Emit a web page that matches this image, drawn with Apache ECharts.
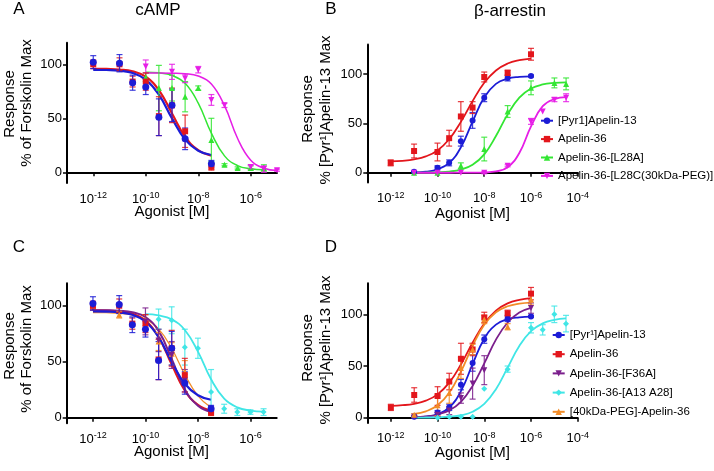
<!DOCTYPE html>
<html><head><meta charset="utf-8">
<script src="https://cdn.jsdelivr.net/npm/echarts@6/dist/echarts.min.js"></script>
<style>html,body{margin:0;padding:0;background:#fff}#c{width:714px;height:471px}</style>
</head><body><div id="c"></div>
<script>
// ---- tick labels (log10 of molar concentration) ----
const xTicksAC = [-12, -10, -8, -6];
const xTicksBD = [-12, -10, -8, -6, -4];
const yTicks = [0, 50, 100];

// ---- cAMP data (x = log10[M]) ----
const pyr_cAMP_x = [-12, -11, -10.5, -10, -9.5, -9, -8.5, -7.5];
const pyr_cAMP_y = [102, 101, 83, 79, 51, 62, 31, 8];
const pyr_cAMP_err = [6, 8, 7, 7, 17, 15, 10, 3];
const a36_cAMP_x = [-12, -11, -10.5, -10, -9.5, -9, -8.5, -7.5];
const a36_cAMP_y = [100, 100, 84, 84, 52, 62, 38, 5];
const a36_cAMP_err = [4, 6, 5, 8, 18, 16, 15, 3];
const l28a_cAMP_x = [-10, -9.5, -9, -8.5, -8, -7.5, -7, -6.5, -6, -5.5];
const l28a_cAMP_y = [88, 78, 78, 70, 78, 30, 7, 4, 4, 4];
const l28a_cAMP_err = [4, 21, 12, 14, 2, 20, 1, 1, 2, 3];
const l28c_cAMP_x = [-10, -9, -8.5, -8, -7.5, -7, -6, -5.5, -5];
const l28c_cAMP_y = [98, 93, 87, 95, 67, 62, 5, 3, 2];
const l28c_cAMP_err = [6, 7, 4, 3, 5, 2, 2, 3, 1];
const f36a_cAMP_x = [-12, -10, -9.5, -9, -8.5, -7.5];
const f36a_cAMP_y = [100, 86, 69, 56, 33, 7];
const f36a_cAMP_err = [3, 12, 10, 12, 10, 3];
const a13a28_cAMP_x = [-9.5, -9, -8.5, -8, -7.5, -7, -6.5, -6, -5.5];
const a13a28_cAMP_y = [88, 87, 63, 62, 23, 8, 5, 5, 5];
const a13a28_cAMP_err = [9, 12, 16, 9, 20, 4, 3, 2, 3];
const peg40_cAMP_x = [-12, -11, -10, -9.5, -9, -8.5, -7.5];
const peg40_cAMP_y = [100, 92, 87, 68, 57, 41, 5];
const peg40_cAMP_err = [3, 3, 5, 8, 10, 10, 3];

// ---- beta-arrestin data ----
const pyr_arr_x = [-11, -10, -9.5, -9, -8.5, -8, -7, -6];
const pyr_arr_y = [1, 5, 10, 32, 53, 76, 96, 98];
const pyr_arr_err = [1, 2, 3, 5, 8, 4, 3, 1];
const a36_arr_x = [-12, -11, -10, -9.5, -9, -8.5, -8, -7, -6];
const a36_arr_y = [10, 22, 21, 35, 57, 66, 97, 101, 120];
const a36_arr_err = [3, 7, 9, 8, 15, 6, 5, 3, 6];
const l28a_arr_x = [-11, -10, -9, -8, -7, -6, -5, -4.5];
const l28a_arr_y = [0, 0, 7, 24, 62, 86, 91, 90];
const l28a_arr_err = [0, 0, 3, 12, 6, 7, 5, 6];
const l28c_arr_x = [-11, -10, -9, -8, -7, -6, -5.5, -5, -4.5];
const l28c_arr_y = [0, 0, 0, 0, 7, 52, 62, 74, 76];
const l28c_arr_err = [0, 0, 0, 1, 1, 3, 0, 2, 4];
const f36a_arr_x = [-11, -10, -9.5, -9, -8.5, -8, -6];
const f36a_arr_y = [1, 3, 7, 19, 33, 46, 106];
const f36a_arr_err = [1, 2, 4, 5, 15, 14, 5];
const a13a28_arr_x = [-10, -9.5, -9, -8.5, -8, -7, -6, -5.5, -5, -4.5];
const a13a28_arr_y = [0, 1, 1, 1, 28, 47, 87, 85, 100, 91];
const a13a28_arr_err = [0, 0, 0, 0, 0, 3, 5, 5, 8, 8];
const peg40_arr_x = [-11, -10, -9.5, -9, -8.5, -8, -7, -6];
const peg40_arr_y = [3, 12, 24, 48, 66, 95, 88, 114];
const peg40_arr_err = [1, 10, 10, 10, 5, 4, 3, 5];

// ---- fitted curves ----
const curveX_12_75 = [-12, -11.5, -11, -10.5, -10, -9.5, -9, -8.5, -8, -7.5];
const pyrCurveA_y = [94.9, 94.7, 94.0, 91.9, 85.9, 71.9, 49.9, 30.3, 20.0, 16.0];
const a36CurveA_y = [95.9, 95.7, 95.2, 93.5, 88.5, 76.1, 54.5, 33.0, 20.5, 15.5];
const l28aCurveA_x = [-10, -9.5, -9, -8.5, -8, -7.5, -7, -6.5, -6, -5.5];
const l28aCurveA_y = [92.7, 92.1, 89.7, 82.4, 64.0, 36.2, 15.2, 6.2, 3.2, 2.3];
const l28cCurveA_x = [-10, -9.5, -9, -8.5, -8, -7.5, -7, -6.5, -6, -5.5, -5];
const l28cCurveA_y = [92.0, 92.0, 91.8, 91.3, 89.2, 81.8, 61.7, 31.3, 11.2, 3.8, 1.7];

const pyrCurveB_x = [-11, -10.5, -10, -9.5, -9, -8.5, -8, -7.5, -7, -6.5, -6];
const pyrCurveB_y = [0.4, 1.1, 3.4, 9.9, 25.7, 51.8, 76.4, 90.0, 95.3, 97.1, 97.7];
const a36CurveB_x = [-12, -11.5, -11, -10.5, -10, -9.5, -9, -8.5, -8, -7.5, -7, -6.5, -6];
const a36CurveB_y = [11.5, 12.1, 13.5, 16.5, 22.6, 33.9, 51.5, 72.5, 91.1, 103.6, 110.6, 114.0, 115.6];
const curveX_11_45 = [-11, -10.5, -10, -9.5, -9, -8.5, -8, -7.5, -7, -6.5, -6, -5.5, -5, -4.5];
const l28aCurveB_y = [0.1, 0.2, 0.5, 1.2, 3.2, 8.0, 18.6, 37.2, 59.1, 76.1, 85.3, 89.4, 91.0, 91.6];
const l28cCurveB_y = [0, 0, 0, 0, 0.02, 0.07, 0.3, 1.3, 5.6, 20.0, 47.0, 67.4, 74.6, 76.5];

const a36CurveC_y = [95.9, 95.7, 95.0, 92.8, 86.7, 71.9, 47.4, 24.2, 11.5, 6.5];
const f36aCurveC_y = [96.0, 95.9, 95.5, 94.2, 89.9, 77.5, 52.4, 25.5, 10.7, 5.3];
const a13a28CurveC_x = [-10, -9.5, -9, -8.5, -8, -7.5, -7, -6.5, -6, -5.5];
const a13a28CurveC_y = [92.4, 91.3, 87.8, 78.3, 59.0, 34.3, 17.0, 9.2, 6.4, 5.4];
const peg40CurveC_y = [93.9, 93.7, 93.2, 91.8, 88.2, 79.3, 61.9, 38.6, 19.5, 9.1];

const curveX_11_6 = [-11, -10.5, -10, -9.5, -9, -8.5, -8, -7.5, -7, -6.5, -6];
const f36aCurveD_y = [0.6, 1.3, 3.1, 7.1, 15.4, 30.8, 52.6, 75.5, 92.1, 101.7, 106.3];
const a13a28CurveD_y = [0.1, 0.2, 0.4, 1.0, 2.4, 5.8, 13.3, 27.6, 48.5, 69.4, 83.7, 91.2, 94.6, 96.0];
const peg40CurveD_y = [3.7, 6.2, 12.0, 24.1, 44.6, 69.4, 89.9, 102.0, 107.8, 110.3, 111.3];

// ---- names ----
const N_PYR = '[Pyr1]Apelin-13';
const N_PYR_SUP = '[Pyr\u00b9]Apelin-13';
const N_A36 = 'Apelin-36';
const N_L28A = 'Apelin-36-[L28A]';
const N_L28C = 'Apelin-36-[L28C(30kDa-PEG)]';
const N_F36A = 'Apelin-36-[F36A]';
const N_A13 = 'Apelin-36-[A13 A28]';
const N_PEG = '[40kDa-PEG]-Apelin-36';

const FONT = '"Liberation Sans", Arial, sans-serif';
const C = {blue:'#1c1cd6', red:'#e3161c', green:'#33e633', magenta:'#e61ee6', purple:'#7b1f8c', cyan:'#40e6e6', orange:'#f28c28'};

const series = [];
function zip(xs, ys) { return xs.map((x, i) => [x, ys[i]]); }
function addCompound(p, name, color, symbol, rot, size, dx, dy, de, cx, cy, lw) {
  series.push({type:'line', name, xAxisIndex:p, yAxisIndex:p, data: zip(cx, cy), smooth:0.45,
    showSymbol:false, symbol, symbolRotate:rot, lineStyle:{color, width:lw}, itemStyle:{color}, z:2, silent:true});
  series.push({type:'custom', name, xAxisIndex:p, yAxisIndex:p, z:3, silent:true,
    data: dx.map((x, i) => [x, dy[i], de[i]]), encode:{x:0, y:1},
    renderItem: (params, api) => {
      const x = api.value(0), y = api.value(1), e = api.value(2);
      if (!e) return {type:'group', children:[]};
      const t = api.coord([x, y + e]), b = api.coord([x, y - e]);
      const st = {stroke: color, lineWidth: 1.2, opacity: 0.85};
      return {type:'group', children:[
        {type:'line', shape:{x1:t[0], y1:t[1], x2:b[0], y2:b[1]}, style:st},
        {type:'line', shape:{x1:t[0]-3, y1:t[1], x2:t[0]+3, y2:t[1]}, style:st},
        {type:'line', shape:{x1:b[0]-3, y1:b[1], x2:b[0]+3, y2:b[1]}, style:st}
      ]};
    }});
  series.push({type:'scatter', name, xAxisIndex:p, yAxisIndex:p, data: zip(dx, dy), symbol, symbolRotate:rot,
    symbolSize:size, itemStyle:{color, opacity:1}, z:4, silent:true});
}

// Panel A (0)
addCompound(0, N_L28A, C.green, 'triangle', 0, 6, l28a_cAMP_x, l28a_cAMP_y, l28a_cAMP_err, l28aCurveA_x, l28aCurveA_y, 1.5);
addCompound(0, N_L28C, C.magenta, 'triangle', 180, 6, l28c_cAMP_x, l28c_cAMP_y, l28c_cAMP_err, l28cCurveA_x, l28cCurveA_y, 1.5);
addCompound(0, N_A36, C.red, 'rect', 0, 6, a36_cAMP_x, a36_cAMP_y, a36_cAMP_err, curveX_12_75, a36CurveA_y, 2.2);
addCompound(0, N_PYR, C.blue, 'circle', 0, 7, pyr_cAMP_x, pyr_cAMP_y, pyr_cAMP_err, curveX_12_75, pyrCurveA_y, 2.2);
// Panel B (1)
addCompound(1, N_PYR, C.blue, 'circle', 0, 6, pyr_arr_x, pyr_arr_y, pyr_arr_err, pyrCurveB_x, pyrCurveB_y, 1.8);
addCompound(1, N_A36, C.red, 'rect', 0, 6, a36_arr_x, a36_arr_y, a36_arr_err, a36CurveB_x, a36CurveB_y, 1.8);
addCompound(1, N_L28A, C.green, 'triangle', 0, 6, l28a_arr_x, l28a_arr_y, l28a_arr_err, curveX_11_45, l28aCurveB_y, 1.8);
addCompound(1, N_L28C, C.magenta, 'triangle', 180, 6, l28c_arr_x, l28c_arr_y, l28c_arr_err, curveX_11_45, l28cCurveB_y, 1.8);
// Panel C (2)
addCompound(2, N_A13, C.cyan, 'diamond', 0, 6, a13a28_cAMP_x, a13a28_cAMP_y, a13a28_cAMP_err, a13a28CurveC_x, a13a28CurveC_y, 1.8);
addCompound(2, N_PEG, C.orange, 'triangle', 0, 6, peg40_cAMP_x, peg40_cAMP_y, peg40_cAMP_err, curveX_12_75, peg40CurveC_y, 1.2);
addCompound(2, N_A36, C.red, 'rect', 0, 6, a36_cAMP_x, a36_cAMP_y, a36_cAMP_err, curveX_12_75, a36CurveC_y, 2);
addCompound(2, N_F36A, C.purple, 'triangle', 180, 6, f36a_cAMP_x, f36a_cAMP_y, f36a_cAMP_err, curveX_12_75, f36aCurveC_y, 2);
addCompound(2, N_PYR_SUP, C.blue, 'circle', 0, 7, pyr_cAMP_x, pyr_cAMP_y, pyr_cAMP_err, curveX_12_75, pyrCurveA_y, 2.2);
// Panel D (3)
addCompound(3, N_PYR_SUP, C.blue, 'circle', 0, 6, pyr_arr_x, pyr_arr_y, pyr_arr_err, pyrCurveB_x, pyrCurveB_y, 1.8);
addCompound(3, N_A36, C.red, 'rect', 0, 6, a36_arr_x, a36_arr_y, a36_arr_err, a36CurveB_x, a36CurveB_y, 1.8);
addCompound(3, N_F36A, C.purple, 'triangle', 180, 6, f36a_arr_x, f36a_arr_y, f36a_arr_err, curveX_11_6, f36aCurveD_y, 1.8);
addCompound(3, N_A13, C.cyan, 'diamond', 0, 6, a13a28_arr_x, a13a28_arr_y, a13a28_arr_err, curveX_11_45, a13a28CurveD_y, 1.8);
addCompound(3, N_PEG, C.orange, 'triangle', 0, 6, peg40_arr_x, peg40_arr_y, peg40_arr_err, curveX_11_6, peg40CurveD_y, 1.8);

const grids = [
  {left:67, top:42.7, width:210, height:140.4},
  {left:367.3, top:44.4, width:210.5, height:138.2},
  {left:66.7, top:283.3, width:210, height:140},
  {left:367.5, top:283.3, width:210.2, height:139.6}
];
const xMax = [-5, -4, -5, -4];
const xTicks = [xTicksAC, xTicksBD, xTicksAC, xTicksBD];
const yMin = [-10, -10, -5, -5];
const yMax = [120, 130, 120, 130];

const xAxis = grids.map((g, i) => ({
  type:'value', gridIndex:i, min:-13, max:xMax[i],
  axisLine:{show:true, lineStyle:{color:'#000', width:2}},
  axisTick:{show:true, customValues:xTicks[i], length:4, lineStyle:{color:'#000', width:1.5}},
  axisLabel:{customValues:xTicks[i], margin:8, formatter: v => '{b|10}{s|' + v + '}',
    rich:{b:{fontSize:13, fontFamily:FONT, color:'#000'}, s:{fontSize:9, fontFamily:FONT, color:'#000', padding:[0,0,7,0]}}},
  splitLine:{show:false}
}));
const yAxis = grids.map((g, i) => ({
  type:'value', gridIndex:i, min:yMin[i], max:yMax[i],
  axisLine:{show:true, lineStyle:{color:'#000', width:2}},
  axisTick:{show:true, customValues:yTicks, length:4, lineStyle:{color:'#000', width:1.5}},
  axisLabel:{customValues:yTicks, margin:5, fontSize:13, fontFamily:FONT, color:'#000'},
  splitLine:{show:false}
}));

function txt(x, y, text, size, rot) {
  return {type:'text', x, y, rotation: rot || 0, silent:true,
    style:{text, fontSize:size, fontFamily:FONT, fill:'#000', align:'center', verticalAlign:'middle', textAlign:'center', textVerticalAlign:'middle'}};
}
const R = Math.PI / 2;
const graphic = [
  txt(19, 9, 'A', 17), txt(158, 10, 'cAMP', 17),
  txt(331, 9, 'B', 17), txt(510, 11, '\u03b2-arrestin', 17),
  txt(19, 247, 'C', 17), txt(331, 247, 'D', 17),
  txt(172, 212, 'Agonist [M]', 15), txt(472.5, 214, 'Agonist [M]', 15),
  txt(171.5, 452, 'Agonist [M]', 15), txt(472.5, 453, 'Agonist [M]', 15),
  txt(10, 104, 'Response', 15, R), txt(27, 103, '% of Forskolin Max', 15, R),
  txt(308, 109, 'Response', 15, R), txt(326, 110, '% [Pyr\u00b9]Apelin-13 Max', 15, R),
  txt(10, 346, 'Response', 15, R), txt(27, 349, '% of Forskolin Max', 15, R),
  txt(308, 348, 'Response', 15, R), txt(326, 350, '% [Pyr\u00b9]Apelin-13 Max', 15, R)
];

const legendBase = {orient:'vertical', itemWidth:12, itemHeight:8, padding:0, selectedMode:false,
  textStyle:{fontSize:11.5, fontFamily:FONT, color:'#000', lineHeight:14}};
const legend = [
  Object.assign({}, legendBase, {left:540, top:113.7, itemGap:4.4, data:[N_PYR, N_A36, N_L28A, N_L28C]}),
  Object.assign({}, legendBase, {left:551.7, top:328, itemGap:5.2, data:[N_PYR_SUP, N_A36, N_F36A, N_A13, N_PEG]})
];

const chart = echarts.init(document.getElementById('c'), null, {renderer:'canvas'});
chart.setOption({animation:false, backgroundColor:'#fff', grid:grids, xAxis, yAxis, legend, graphic, series});
</script></body></html>
